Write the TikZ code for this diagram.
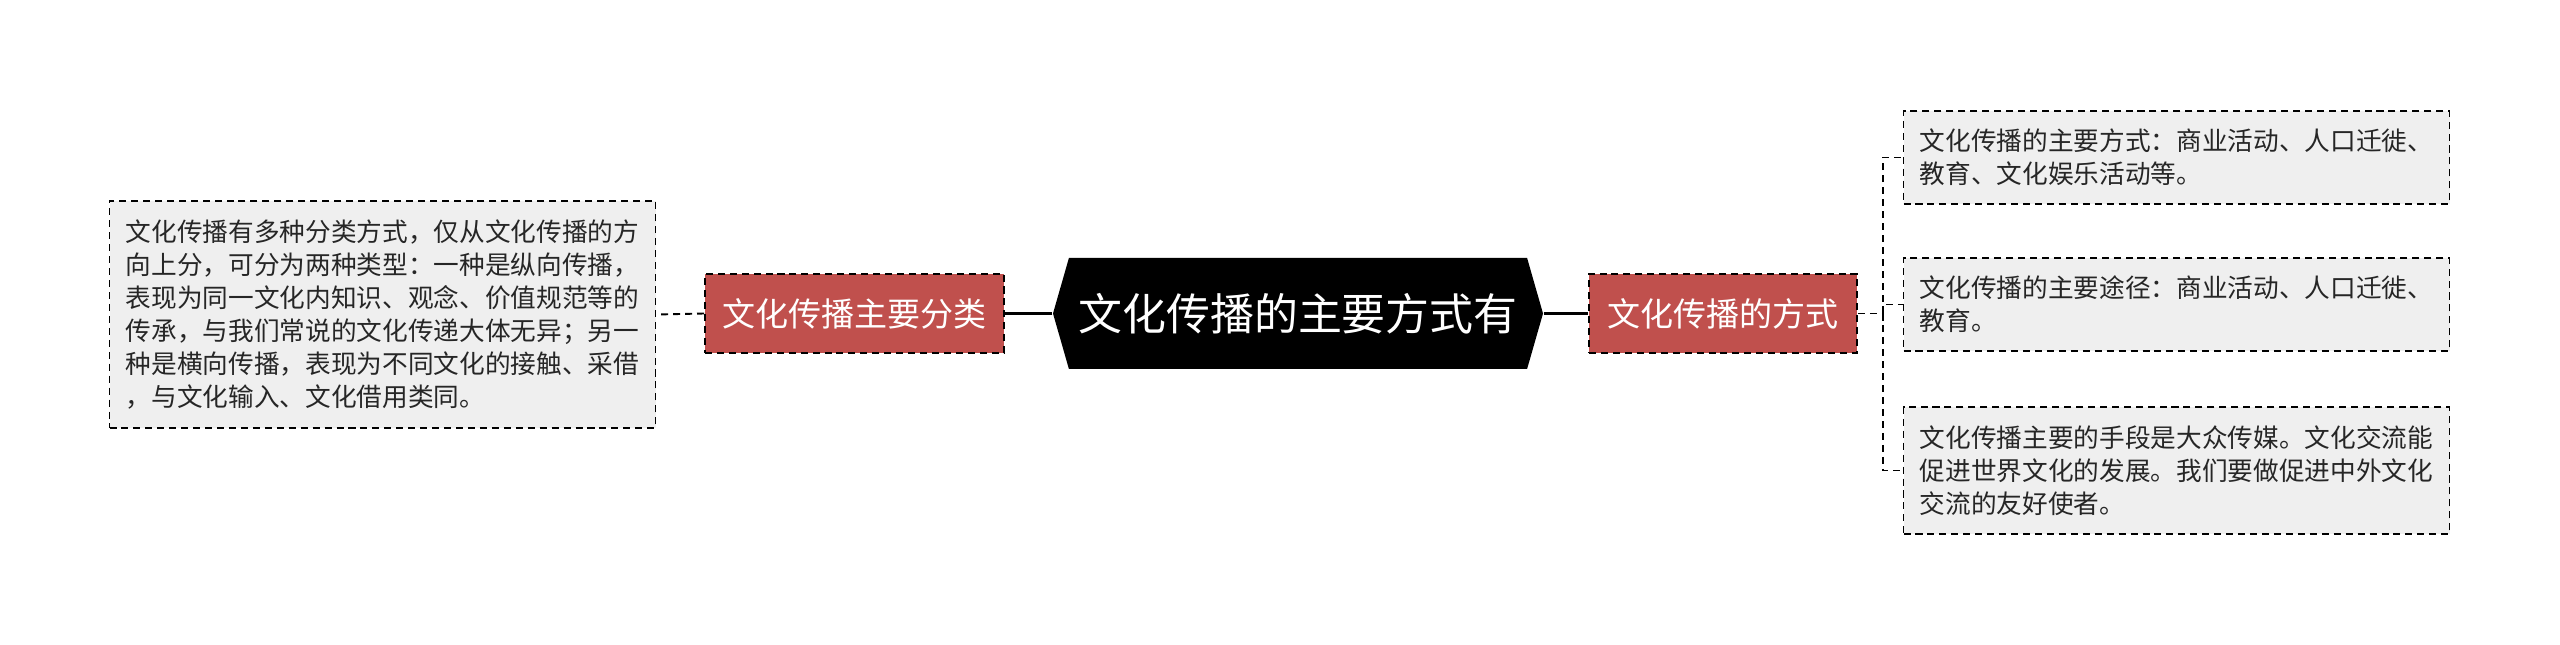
\documentclass[tikz,border=0pt]{standalone}
\usepackage{fontspec}
\setmainfont{Noto Sans CJK SC}
\usetikzlibrary{positioning,shapes.symbols}
\definecolor{topicred}{HTML}{C0504D}
\definecolor{notegray}{HTML}{EFEFEF}

\begin{document}
\begin{tikzpicture}[
  note/.style={draw, line width=0.55pt, dash pattern=on 2pt off 1.4pt, fill=notegray,
    text=black!85, font=\fontsize{7.3pt}{9.4pt}\selectfont, align=left,
    inner xsep=0.15cm, inner ysep=0, minimum width=5.46cm},
  topic/.style={draw, line width=0.55pt, dash pattern=on 2pt off 1.4pt, fill=topicred,
    text=white, font=\fontsize{9.4pt}{11pt}\selectfont, minimum height=0.79cm, inner sep=0},
  link/.style={line width=1.1pt},
  dlink/.style={line width=0.55pt, dash pattern=on 2pt off 1.4pt}
]
\useasboundingbox (0,0) rectangle (25.6,-6.45);

% centre
\node[signal, signal to=west and east, signal pointer angle=148, fill=black, text=white,
  font=\fontsize{12.5pt}{14pt}\selectfont, minimum width=4.9cm, minimum height=1.11cm,
  inner sep=0] (title) at (12.98,-3.135) {文化传播的主要方式有};

% left side
\node[topic, minimum width=2.99cm] (sort) at (8.545,-3.135) {文化传播主要分类};
\node[note, minimum height=2.27cm] (kinds) at (3.825,-3.145)
  {文化传播有多种分类方式，仅从文化传播的方\\向上分，可分为两种类型：一种是纵向传播，\\表现为同一文化内知识、观念、价值规范等的\\传承，与我们常说的文化传递大体无异；另一\\种是横向传播，表现为不同文化的接触、采借\\，与文化输入、文化借用类同。};

% right side
\node[topic, minimum width=2.68cm] (way) at (17.23,-3.135) {文化传播的方式};
\node[note, minimum height=0.93cm] (mode) at (21.765,-1.575)
  {文化传播的主要方式：商业活动、人口迁徙、\\教育、文化娱乐活动等。};
\node[note, minimum height=0.93cm] (route) at (21.765,-3.045)
  {文化传播的主要途径：商业活动、人口迁徙、\\教育。};
\node[note, minimum height=1.27cm] (media) at (21.765,-4.705)
  {文化传播主要的手段是大众传媒。文化交流能\\促进世界文化的发展。我们要做促进中外文化\\交流的友好使者。};

% connectors
\draw[link] (title.west) -- (sort.east);
\draw[link] (title.east) -- (way.west);
\draw[dlink] (sort.west) -- (kinds.east);
\coordinate (fork) at (18.83,-3.135);
\draw[dlink] (way.east) -- (fork);
\draw[dlink] (fork) |- (mode.west);
\draw[dlink] (fork) |- (route.west);
\draw[dlink] (fork) |- (media.west);
\end{tikzpicture}
\end{document}
